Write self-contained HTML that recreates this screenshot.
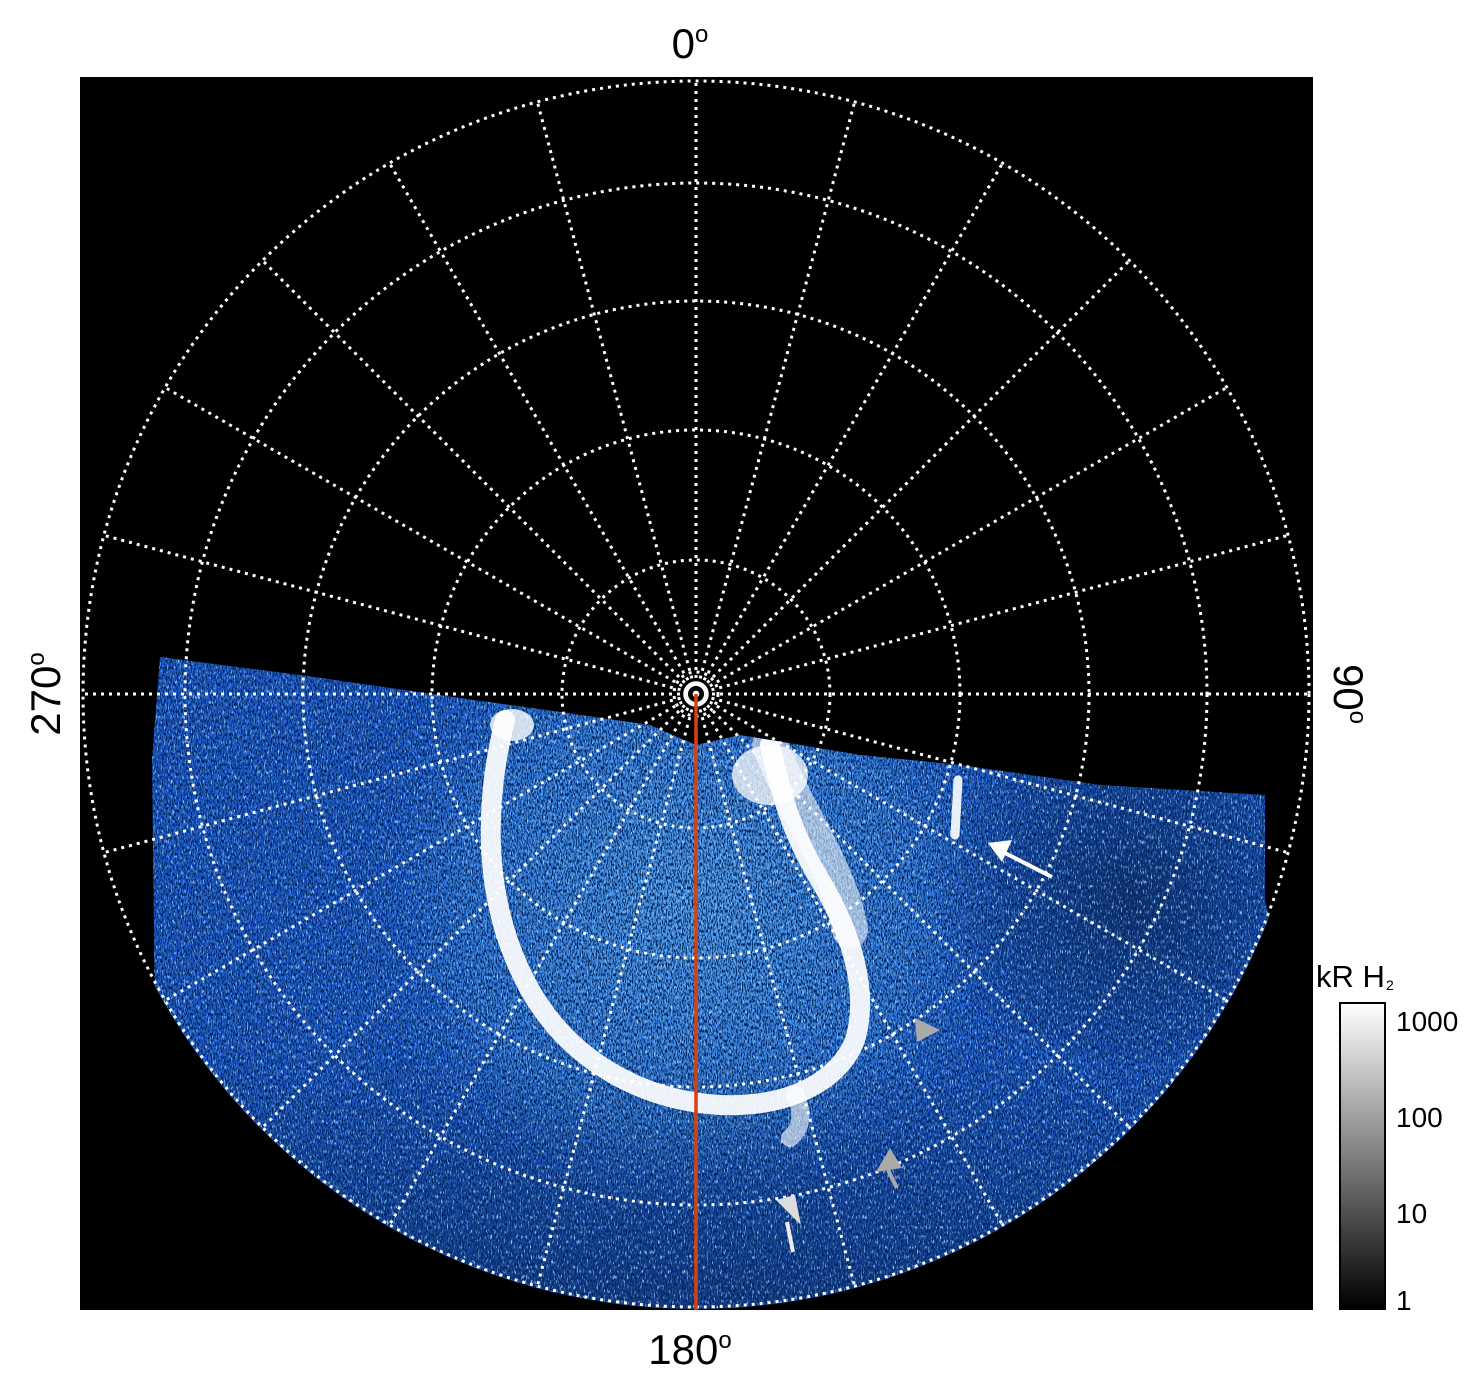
<!DOCTYPE html>
<html><head><style>
html,body{margin:0;padding:0;background:#fff;width:1481px;height:1386px;overflow:hidden}
svg{display:block}
text{font-family:"Liberation Sans",sans-serif;fill:#000}
</style></head><body>
<svg width="1481" height="1386" viewBox="0 0 1481 1386" xmlns="http://www.w3.org/2000/svg">
<defs>
<clipPath id="sq"><rect x="80" y="77" width="1233" height="1233"/></clipPath>
<clipPath id="circ"><circle cx="696" cy="694" r="615"/></clipPath>
<clipPath id="reg">
<path d="M160,657 L300,675 L460,698 L560,712 L650,725 L696,745 L740,735 L860,755 L960,765 L1100,785 L1265,795 L1265,900 L1400,1450 L0,1450 L155,1020 L152,760 Z"/>
</clipPath>
<filter id="dark" x="0" y="0" width="100%" height="100%">
<feTurbulence type="fractalNoise" baseFrequency="0.8 0.3" numOctaves="2" seed="3"/>
<feColorMatrix type="matrix" values="0 0 0 0 0  0 0 0 0 0.02  0 0 0 0 0.12  5 0 0 0 -2.3"/>
</filter>
<filter id="light" x="0" y="0" width="100%" height="100%">
<feTurbulence type="fractalNoise" baseFrequency="0.7 0.2" numOctaves="2" seed="11"/>
<feColorMatrix type="matrix" values="0 0 0 0 0.35  0 0 0 0 0.65  0 0 0 0 1  5 0 0 0 -2.9"/>
</filter>
<radialGradient id="glow" cx="690" cy="900" r="330" gradientUnits="userSpaceOnUse">
<stop offset="0" stop-color="#5aa8f0" stop-opacity="0.9"/>
<stop offset="0.7" stop-color="#3f8ee8" stop-opacity="0.6"/>
<stop offset="1" stop-color="#2a6ee0" stop-opacity="0"/>
</radialGradient>
<radialGradient id="rdark" cx="1130" cy="900" r="200" gradientUnits="userSpaceOnUse">
<stop offset="0" stop-color="#000" stop-opacity="0.45"/>
<stop offset="1" stop-color="#000" stop-opacity="0"/>
</radialGradient>
<linearGradient id="bot" x1="0" y1="0" x2="0" y2="1">
<stop offset="0" stop-color="#000" stop-opacity="0"/>
<stop offset="1" stop-color="#000" stop-opacity="0.35"/>
</linearGradient>
<linearGradient id="cb" x1="0" y1="1" x2="0" y2="0">
<stop offset="0" stop-color="#000"/><stop offset="1" stop-color="#fff"/>
</linearGradient>
</defs>
<rect x="80" y="77" width="1233" height="1233" fill="#000"/>
<g clip-path="url(#sq)">
<g clip-path="url(#circ)">
<g clip-path="url(#reg)">
<rect x="80" y="640" width="1233" height="700" fill="#1f5ccc"/>
<ellipse cx="690" cy="900" rx="330" ry="300" fill="url(#glow)"/>
<ellipse cx="1130" cy="900" rx="200" ry="160" fill="url(#rdark)"/>
<rect x="80" y="1050" width="1233" height="260" fill="url(#bot)"/>
<rect x="80" y="640" width="1233" height="700" filter="url(#dark)"/>
<rect x="80" y="640" width="1233" height="700" filter="url(#light)"/>
<rect x="80" y="640" width="1233" height="700" filter="url(#dark)" opacity="0.6"/>
<g fill="none" stroke="#fff" stroke-linecap="round">
<path d="M505,720 C485,800 480,900 530,990 C570,1060 640,1100 720,1105 C790,1108 840,1080 855,1040 C870,990 850,930 820,880 C790,830 780,790 770,745" stroke-width="20" opacity="0.92"/>
<path d="M770,745 C800,820 840,870 850,930" stroke-width="36" opacity="0.55"/>
<path d="M958,780 L955,835" stroke-width="9" opacity="0.9"/>
<path d="M795,1095 C805,1115 800,1130 790,1138" stroke-width="18" opacity="0.6"/>
</g>
<ellipse cx="770" cy="775" rx="38" ry="30" fill="#fff" opacity="0.75"/>
<ellipse cx="512" cy="725" rx="22" ry="16" fill="#fff" opacity="0.8"/>
</g>
</g>
<g fill="none" stroke="#fff" stroke-width="3" stroke-dasharray="3 5">
<circle cx="696" cy="694" r="613"/>
<circle cx="696" cy="694" r="511"/>
<circle cx="696" cy="694" r="393"/>
<circle cx="696" cy="694" r="264"/>
<circle cx="696" cy="694" r="134"/>
<circle cx="696" cy="694" r="22"/>
<g id="rad">
<line x1="696" y1="694" x2="696" y2="81"/>
<line x1="696" y1="694" x2="696" y2="81" transform="rotate(15 696 694)"/>
<line x1="696" y1="694" x2="696" y2="81" transform="rotate(30 696 694)"/>
<line x1="696" y1="694" x2="696" y2="81" transform="rotate(45 696 694)"/>
<line x1="696" y1="694" x2="696" y2="81" transform="rotate(60 696 694)"/>
<line x1="696" y1="694" x2="696" y2="81" transform="rotate(75 696 694)"/>
</g>
<use href="#rad" transform="rotate(90 696 694)"/>
<use href="#rad" transform="rotate(180 696 694)"/>
<use href="#rad" transform="rotate(270 696 694)"/>
</g>
<circle cx="696" cy="694" r="11" fill="none" stroke="#fff" stroke-width="3.5"/>
<line x1="696" y1="694" x2="696" y2="1310" stroke="#d8400f" stroke-width="3.5"/>
<g stroke-width="4" fill="none">
<line x1="1052" y1="877" x2="1005" y2="853" stroke="#fff"/>
<line x1="793" y1="1252" x2="787" y2="1222" stroke="#eee"/>
<line x1="897" y1="1188" x2="888" y2="1170" stroke="#aaa"/>
</g>
<polygon points="988,843 1012,840 1002,862" fill="#fff"/>
<polygon points="776,1200 795,1195 801,1225" fill="#ddd"/>
<polygon points="876,1172 890,1148 902,1168" fill="#aaa"/>
<polygon points="915,1018 940,1030 917,1042" fill="#aaa"/>
</g>
<text x="690" y="58" font-size="42" text-anchor="middle">0<tspan font-size="24" dy="-16">o</tspan></text>
<text x="690" y="1364" font-size="42" text-anchor="middle">180<tspan font-size="24" dy="-16">o</tspan></text>
<text transform="translate(60,694) rotate(-90)" font-size="42" text-anchor="middle">270<tspan font-size="24" dy="-16">o</tspan></text>
<text transform="translate(1334,694) rotate(90)" font-size="42" text-anchor="middle">90<tspan font-size="24" dy="-16">o</tspan></text>
<rect x="1340" y="1003" width="45" height="306" fill="url(#cb)" stroke="#000" stroke-width="2"/>
<text x="1316" y="987" font-size="31">kR H</text>
<text x="1386" y="990" font-size="14">2</text>
<text x="1396" y="1031" font-size="28">1000</text>
<text x="1396" y="1127" font-size="28">100</text>
<text x="1396" y="1223" font-size="28">10</text>
<text x="1396" y="1310" font-size="28">1</text>
</svg>
</body></html>
